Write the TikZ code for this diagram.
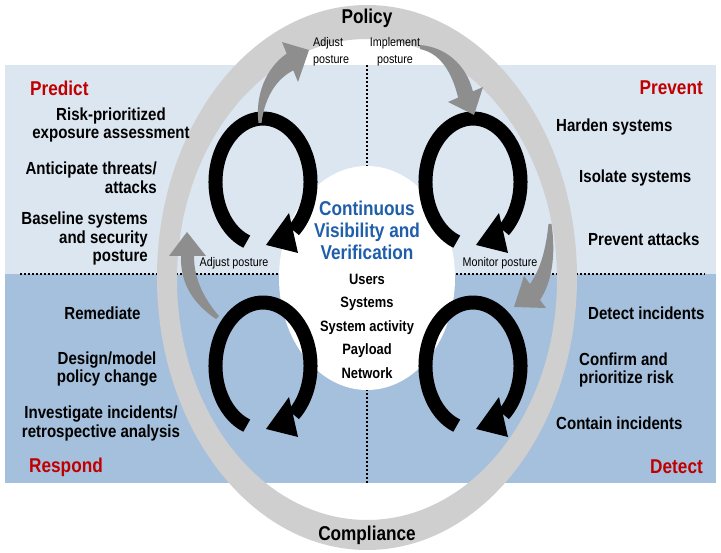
\documentclass[tikz,border=0pt]{standalone}
\usepackage{fontspec}
\setmainfont{Liberation Sans}[FakeStretch=0.86]
\definecolor{toppanel}{HTML}{DCE6F1}
\definecolor{botpanel}{HTML}{A5C0DC}
\definecolor{ringgray}{HTML}{CFCFCF}
\definecolor{arrowgray}{HTML}{8E8E8E}
\definecolor{redtxt}{HTML}{C00000}
\definecolor{bluetxt}{HTML}{1F5FAA}
\newcommand\cycarrow[1]{%
  \begin{scope}[shift={(#1)}]
    \draw[line width=14pt] (110:47.5 and 63.5) arc[start angle=110, end angle=410, x radius=47.5, y radius=63.5];
    \fill (3,63) -- (26,31) -- (35,71) -- cycle;
  \end{scope}}
\begin{document}
\begin{tikzpicture}[x=1pt,y=-1pt,
  bt/.style={font=\bfseries\fontsize{17.5}{18.5}\selectfont, inner sep=0pt},
  rt/.style={font=\bfseries\fontsize{20}{22}\selectfont, text=redtxt, inner sep=0pt},
  pt/.style={font=\bfseries\fontsize{20}{22}\selectfont, inner sep=0pt},
  vt/.style={font=\bfseries\fontsize{20}{22}\selectfont, text=bluetxt, inner sep=0pt, align=center},
  ct/.style={font=\bfseries\fontsize{15}{23.5}\selectfont, inner sep=0pt, align=center},
  st/.style={font=\fontsize{12.5}{17}\selectfont, inner sep=0pt},
  dotline/.style={line width=2.2pt, dash pattern=on 2pt off 2pt}]
\useasboundingbox (0,0) rectangle (721,553);
\fill[white] (0,0) rectangle (721,553);
% panels
\fill[toppanel] (5,65) rectangle (716,274);
\fill[botpanel] (5,274) rectangle (716,483);
% dotted dividers
\draw[dotline] (20,274) -- (705,274);
\draw[dotline] (367,65) -- (367,483);
% policy / compliance ring
\fill[ringgray, even odd rule] (367,277.5) ellipse [x radius=210, y radius=272.5]
  (367,279.5) ellipse [x radius=190, y radius=240.5];
% centre
\fill[white] (367,278) ellipse [x radius=88, y radius=112];
% cycle arrows
\coordinate (cTL) at (263,182);
\coordinate (cTR) at (473,182);
\coordinate (cBL) at (263,366);
\coordinate (cBR) at (473,366);
\cycarrow{cTL}
\cycarrow{cTR}
\cycarrow{cBL}
\cycarrow{cBR}
% grey transition arrows
\fill[arrowgray] (258.5,123) .. controls (255,95) and (266,68) .. (286.7,53.6) -- (282,42) -- (309,50) -- (298,82) -- (293.3,70.4) .. controls (278,78) and (265,95) .. (261.5,123) -- cycle;
\fill[arrowgray] (420,45) .. controls (445,47) and (466,64) .. (472.9,91.4) -- (483,87) -- (474,115) -- (448,102) -- (458.1,97.6) .. controls (452,72) and (440,53) .. (420,49) -- cycle;
\fill[arrowgray] (548.5,224) .. controls (546,250) and (540,270) .. (530,284) -- (524,276) -- (514,307) -- (546,308) -- (540,300) .. controls (552,282) and (556,255) .. (551.5,224) -- cycle;
\fill[arrowgray] (216,319) .. controls (195,305) and (180,285) .. (181,256) -- (169,256) -- (187,232) -- (206,256) -- (194,256) .. controls (194,280) and (205,300) .. (219,316) -- cycle;
% quadrant titles
\node[rt, anchor=west] (predict) at (30,88) {Predict};
\node[rt, anchor=east] (prevent) at (703,88) {Prevent};
\node[rt, anchor=west] (respond) at (29,467) {Respond};
\node[rt, anchor=east] (detect) at (703,467) {Detect};
% ring labels
\node[pt] (policy) at (367,18) {Policy};
\node[pt] (compliance) at (367,535) {Compliance};
% left items
\node[bt, align=center] (risk) at (111,125) {Risk-prioritized\\exposure assessment};
\node[bt, align=right, anchor=east] (antic) at (157,177.5) {Anticipate threats/\\attacks};
\node[bt, align=right, anchor=east] (baseline) at (148,238.5) {Baseline systems\\and security\\posture};
\node[bt] (remed) at (102.5,313) {Remediate};
\node[bt, align=center] (design) at (107,369) {Design/model\\policy change};
\node[bt, align=center] (invest) at (101,423.5) {Investigate incidents/\\retrospective analysis};
% right items
\node[bt, anchor=west] (harden) at (556,127) {Harden systems};
\node[bt, anchor=west] (isolate) at (579,178) {Isolate systems};
\node[bt, anchor=west] (prevatt) at (588,239) {Prevent attacks};
\node[bt, anchor=west] (detinc) at (588,313) {Detect incidents};
\node[bt, align=left, anchor=west] (confirm) at (579,370) {Confirm and\\prioritize risk};
\node[bt, anchor=west] (contain) at (556,423) {Contain incidents};
% centre text
\node[vt] (cvv) at (367,230) {Continuous\\Visibility and\\Verification};
\node[ct] (items) at (367,326) {Users\\Systems\\System activity\\Payload\\Network};
% small labels
\node[st, align=left, anchor=west] (adj1) at (313,51.5) {Adjust\\posture};
\node[st, align=center] (impl) at (395,51.5) {Implement\\posture};
\node[st] (adj2) at (234,263) {Adjust posture};
\node[st] (mon) at (500,263) {Monitor posture};
\end{tikzpicture}
\end{document}
